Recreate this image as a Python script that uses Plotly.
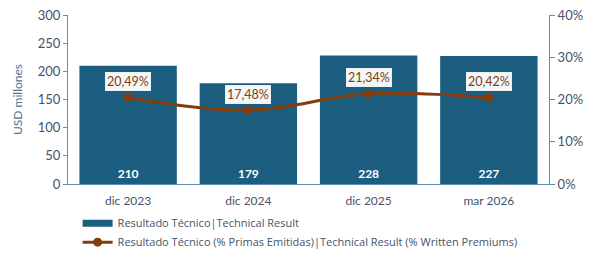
import plotly.graph_objects as go

categories = ["dic 2023", "dic 2024", "dic 2025", "mar 2026"]
technical_result = [210, 179, 228, 227]
technical_pct = [20.49, 17.48, 21.34, 20.42]
bar_name = "Resultado Técnico|Technical Result"
line_name = "Resultado Técnico (% Primas Emitidas)|Technical Result (% Written Premiums)"

BAR = "#1b5e80"
LINE = "#843c0c"
TXT = "#44546a"
AX = "#5f8db8"
FONT = "Lato"

fig = go.Figure()
fig.add_trace(go.Bar(
    x=categories, y=technical_result, name=bar_name, showlegend=False,
    marker=dict(color=BAR, line=dict(width=0)),
    text=technical_result, textposition="inside", insidetextanchor="start",
    textfont=dict(color="white", size=12, family=FONT, weight="bold"),
    width=0.81,
))
# legend proxy for the bar series (wide flat swatch)
fig.add_trace(go.Scatter(
    x=[None], y=[None], name=bar_name, mode="lines",
    line=dict(color=BAR, width=7),
))
fig.add_trace(go.Scatter(
    x=categories, y=technical_pct, name=line_name, yaxis="y2",
    mode="lines+markers", line=dict(color=LINE, width=3, shape="spline", smoothing=1.1),
    marker=dict(color=LINE, size=9),
))
for c, v in zip(categories, technical_pct):
    fig.add_annotation(
        x=c, y=v, yref="y2", text=f"{v:.2f}%".replace(".", ","),
        showarrow=False, yshift=16,
        font=dict(color=LINE, size=12.5, family=FONT),
        bgcolor="rgba(255,255,255,0.95)", bordercolor="#eeeeee", borderwidth=1, borderpad=1,
    )

fig.update_layout(
    width=589, height=265,
    margin=dict(l=68, r=40, t=15, b=81, autoexpand=False),
    paper_bgcolor="white", plot_bgcolor="white",
    font=dict(family=FONT, size=12, color=TXT),
    separators=",.",
    bargap=0.19,
    showlegend=True,
    legend=dict(orientation="v", x=0.02, y=-0.43, xanchor="left", yanchor="bottom",
                font=dict(size=11, family="Open Sans", color=TXT), tracegroupgap=0,
                bgcolor="rgba(0,0,0,0)"),
    xaxis=dict(showline=True, linecolor=AX, linewidth=1, ticks="", tickfont=dict(size=12, color=TXT),
               ticklabelstandoff=6, automargin=False),
    yaxis=dict(range=[0, 300], dtick=50, showgrid=False, zeroline=False, automargin=False,
               showline=True, linecolor=AX, ticks="outside", ticklen=4, tickcolor=AX,
               title=dict(text="USD millones", font=dict(size=12, color="#4f7199"), standoff=12),
               tickfont=dict(size=13, color=TXT)),
    yaxis2=dict(range=[0, 40], dtick=10, ticksuffix="%", overlaying="y", side="right",
                showgrid=False, zeroline=False, showline=True, linecolor=AX, automargin=False,
                ticks="outside", ticklen=5, tickcolor=AX, tickfont=dict(size=13, color=TXT)),
)
fig.write_html("out.html")
